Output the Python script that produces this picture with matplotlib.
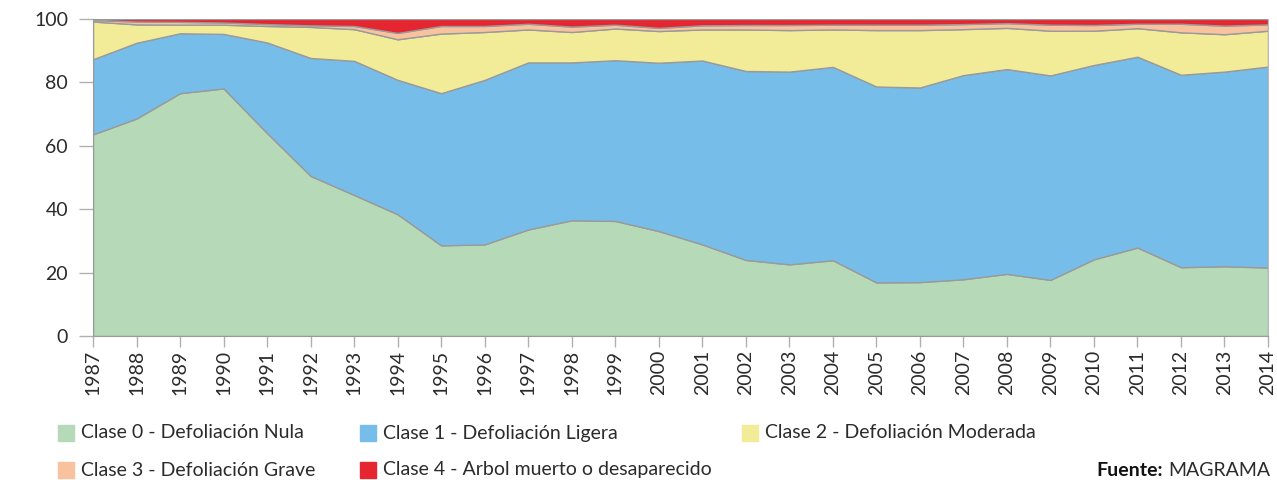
"""
Stacked area chart: defoliation classes by year, 1987-2014 (source: MAGRAMA).
"""

import numpy as np
import matplotlib
matplotlib.use("Agg")
import matplotlib.pyplot as plt
from matplotlib.patches import Rectangle

years = list(range(1987, 2015))

# cumulative top of each class (percent)
top_clase0 = [63.6, 68.6, 76.6, 78.1, 64.0, 50.5, 44.5, 38.4, 28.6, 28.9,
              33.6, 36.5, 36.3, 33.1, 28.9, 24.0, 22.6, 23.9, 16.9, 17.0,
              17.9, 19.6, 17.7, 24.2, 27.9, 21.7, 22.0, 21.6]
top_clase1 = [87.3, 92.5, 95.5, 95.3, 92.6, 87.7, 86.8, 80.8, 76.6, 80.8,
              86.3, 86.3, 87.0, 86.2, 86.9, 83.6, 83.4, 84.9, 78.7, 78.4,
              82.3, 84.2, 82.2, 85.5, 88.1, 82.4, 83.4, 85.0]
top_clase2 = [99.2, 98.3, 98.2, 98.2, 97.8, 97.5, 96.8, 93.6, 95.4, 95.9,
              96.7, 95.9, 97.0, 96.2, 96.7, 96.7, 96.5, 96.7, 96.5, 96.5,
              96.8, 97.2, 96.3, 96.3, 97.1, 95.8, 95.2, 96.3]
top_clase3 = [99.7, 99.2, 99.1, 98.9, 98.4, 98.0, 97.8, 95.6, 97.8, 97.8,
              98.5, 97.6, 98.2, 97.2, 98.0, 98.1, 98.1, 98.2, 98.2, 98.2,
              98.4, 98.7, 98.2, 98.1, 98.5, 98.5, 97.9, 98.3]
top_clase4 = [100.0] * len(years)

labels = [
    "Clase 0 - Defoliación Nula",
    "Clase 1 - Defoliación Ligera",
    "Clase 2 - Defoliación Moderada",
    "Clase 3 - Defoliación Grave",
    "Clase 4 - Arbol muerto o desaparecido",
]
colors = ["#b6d9b8", "#76bee9", "#f2ec99", "#f8c29f", "#e52530"]
TEXT = "#2b2b2b"


def main() -> None:
    plt.rcParams["font.family"] = ["Lato", "DejaVu Sans"]
    tops = np.array([top_clase0, top_clase1, top_clase2, top_clase3, top_clase4])
    shares = np.diff(np.vstack([np.zeros(len(years)), tops]), axis=0)

    fig = plt.figure(figsize=(12.77, 4.8), dpi=100)
    ax = fig.add_axes([93 / 1277, 1 - 336 / 480, 1175 / 1277, 317 / 480])
    ax.stackplot(years, shares, colors=colors, edgecolor="#9a9a9a", linewidth=1.0)

    ax.set_xlim(years[0], years[-1])
    ax.set_ylim(0, 100)
    ax.set_xticks(years)
    ax.set_xticklabels([str(y) for y in years], rotation=90, fontsize=14, color=TEXT)
    ax.set_yticks(range(0, 101, 20))
    ax.set_yticklabels([str(v) for v in range(0, 101, 20)], fontsize=14, color=TEXT)
    ax.tick_params(axis="y", length=10, width=1, color="#b0b0b0", pad=8)
    ax.tick_params(axis="x", length=8, width=1, color="#b0b0b0", pad=2)
    for side in ["left", "bottom"]:
        ax.spines[side].set_color("#9a9a9a")
    ax.spines["right"].set_color("#bbbbbb")
    ax.spines["top"].set_visible(False)

    # legend, drawn by hand to keep the uneven column spacing
    spots = [(58, 433), (360, 433), (742, 433), (58, 470), (360, 470)]
    for (px, py), lab, col in zip(spots, labels, colors):
        fig.patches.append(Rectangle((px / 1277, 1 - (py + 8) / 480), 16 / 1277, 16 / 480,
                                     transform=fig.transFigure, color=col))
        fig.text((px + 23) / 1277, 1 - py / 480, lab, fontsize=14, color=TEXT, va="center")

    src = fig.text(1270 / 1277, 1 - 470 / 480, "MAGRAMA", fontsize=14, color=TEXT,
                   ha="right", va="center")
    fig.canvas.draw()
    x0 = src.get_window_extent().x0
    fig.text((x0 - 5) / 1277, 1 - 470 / 480, "Fuente:", fontsize=14, color="#111111",
             ha="right", va="center", fontweight="bold")

    fig.savefig("out.png", dpi=100)
    plt.close(fig)


if __name__ == "__main__":
    main()
